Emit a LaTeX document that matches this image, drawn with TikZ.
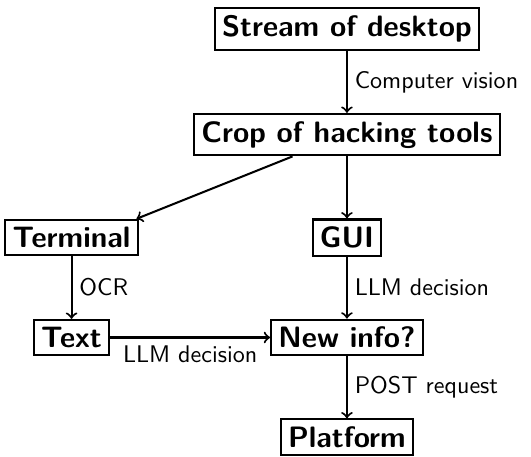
\documentclass[tikz,border=0pt]{standalone}
\usepackage{tikz}
\usetikzlibrary{arrows,positioning,calc}
\renewcommand{\familydefault}{\sfdefault}

\begin{document}
\begin{tikzpicture}[
        box/.style={rectangle, draw, line width=0.9pt, inner sep=3.2pt, font=\fontsize{13}{15}\selectfont\bfseries},
        arr/.style={->, line width=0.9pt},
        lbl/.style={font=\fontsize{10.6}{13}\selectfont, inner sep=3pt},
        node distance=0.96cm
    ]
        \useasboundingbox (-152.7pt,12.8pt) rectangle (81pt,-187.9pt);
        
        % Capture
        \node[box] (stream) at (0,0) {Stream of desktop};
        \node[box, below=of stream] (crop) {Crop of hacking tools};
        
        % Two branches
        \node[box, below=of crop] (gui) {GUI};
        \node[box] (term) at ([xshift=-4.26cm]gui) {Terminal};
        \node[box, below=of gui] (newinfo) {New info?};
        \node[box] (text) at (term |- newinfo) {Text};
        \node[box, below=of newinfo] (platform) {Platform};
        
        % Arrows
        \draw[arr] (stream) -- node[lbl, right] {Computer vision} (crop);
        \draw[arr] (crop) -- ([xshift=-1pt]term.north east);
        \draw[arr] (crop) -- (gui);
        \draw[arr] (term) -- node[lbl, right] {OCR} (text);
        \draw[arr] (gui) -- node[lbl, right] {LLM decision} (newinfo);
        \draw[arr] (text) -- node[lbl, below] {LLM decision} (newinfo);
        \draw[arr] (newinfo) -- node[lbl, right] {POST request} (platform);
    \end{tikzpicture}
\end{document}
